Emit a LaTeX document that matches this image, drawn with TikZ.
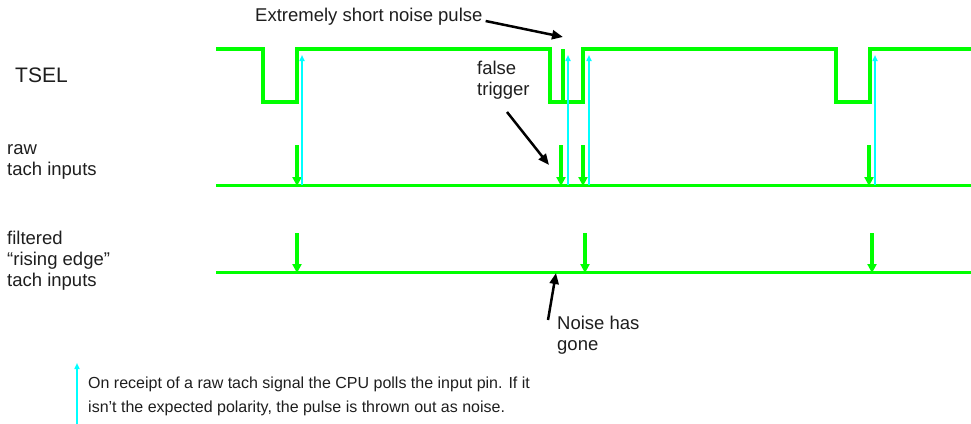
\documentclass[tikz,border=0pt]{standalone}
\usepackage{fontspec}
\setmainfont{Liberation Sans}
\usetikzlibrary{arrows.meta}

\definecolor{sig}{RGB}{0,255,0}
\definecolor{poll}{RGB}{0,255,255}
\definecolor{ink}{RGB}{30,30,30}

\begin{document}
\begin{tikzpicture}[x=1pt, y=-1pt,
	txt/.style={align=left, anchor=west, inner sep=0pt, text=ink,
		font=\fontsize{18.5}{21}\selectfont},
	tsel/.style={line width=4.5pt, color=sig, line join=miter},
	trace/.style={line width=3pt, color=sig},
	edge/.style={line width=4.5pt, color=sig, -{Triangle[length=9pt 0, width=9pt 0]}},
	pollarr/.style={line width=2pt, color=poll, -{Triangle[length=6pt 0, width=5pt 0]}},
	note/.style={line width=2.5pt, color=black, -{Triangle[length=11pt 0, width=9pt 0]}}]
	\useasboundingbox (0,0) rectangle (971,423);
	% TSEL with its three low pulses
	\draw[tsel] (216,49) foreach \a/\b in {263/297, 550/583, 836/870} {
		-- (\a,49) -- (\a,102) -- (\b,102) -- (\b,49) } -- (971,49);
	% the noise spike
	\draw[tsel] (563,102) -- (563,49);
	% raw and filtered traces
	\draw[trace] (216,185) -- (971,185);
	\draw[trace] (216,272) -- (971,272);
	% raw tach edges
	\foreach \x in {297, 561, 583, 869}
		\draw[edge] (\x,145) -- (\x,186);
	% CPU polls
	\foreach \x in {302, 568, 589, 875}
		\draw[pollarr] (\x,185) -- (\x,55);
	% filtered edges
	\foreach \x in {297, 585, 872}
		\draw[edge] (\x,233) -- (\x,273);
	% row labels
	\node[txt, font=\fontsize{21}{24}\selectfont] (tsel) at (15,75) {TSEL};
	\node[txt] (raw) at (7,162) {raw\\tach inputs};
	\node[txt] (filtered) at (7,261) {filtered\\``rising edge''\\tach inputs};
	% annotations
	\node[txt] (noisepulse) at (255,17) {Extremely short noise pulse};
	\node[txt] (falsetrig) at (477,80) {false\\trigger};
	\node[txt] (noisegone) at (557,335) {Noise has\\gone};
	\coordinate (noisetip) at (563,37);
	\coordinate (falsetip) at (549,165);
	\coordinate (gonetip) at (556,273);
	\draw[note] (noisepulse.east) ++(3,4) -- (noisetip);
	\draw[note] (507,112) -- (falsetip);
	\draw[note] (548,320) -- (gonetip);
	% legend
	\coordinate (legbot) at (77,424);
	\coordinate (legtop) at (77,363);
	\draw[pollarr] (legbot) -- (legtop);
	\node[txt, font=\fontsize{16}{24}\selectfont] (legend) at (88,396) {On receipt of a raw tach signal the CPU polls the input pin. If it\\isn't the expected polarity, the pulse is thrown out as noise.};
\end{tikzpicture}
\end{document}
